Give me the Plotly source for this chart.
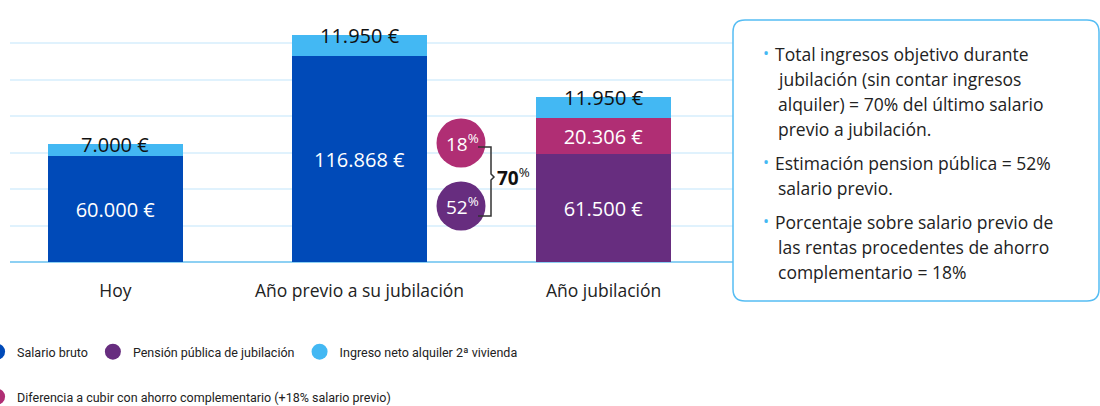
import plotly.graph_objects as go

# Datos
categorias = ["Hoy", "Año previo a su jubilación", "Año jubilación"]
salario_bruto = [60000, 116868, None]
pension_publica = [None, None, 61500]
diferencia_ahorro = [None, None, 20306]
ingreso_alquiler = [7000, 11950, 11950]

pct_labels = ["18", "52"]
pct_total = "70"

notas = [
    ["Total ingresos objetivo durante", "jubilación (sin contar ingresos",
     "alquiler) = 70% del último salario", "previo a jubilación."],
    ["Estimación pension pública = 52%", "salario previo."],
    ["Porcentaje sobre salario previo de", "las rentas procedentes de ahorro",
     "complementario = 18%"],
]

# Colores
AZUL = "#004ab8"
AZUL_CLARO = "#43b8f3"
MAGENTA = "#b02e74"
MORADO = "#672d7f"
TEXTO = "#222222"
FUENTE = "Open Sans"

# Márgenes del área de trazado (px) para convertir a coordenadas 'paper'
W, H = 1100, 406
ML, MR, MT, MB = 10, 267, 7, 144
PW, PH = W - ML - MR, H - MT - MB


def px_x(x):
    return (x - ML) / PW


def px_y(y):
    return (H - MB - y) / PH


def fmt(v):
    return f"{v:,.0f}".replace(",", ".") + " €"


fig = go.Figure()

# Barras apiladas
fig.add_bar(x=categorias, y=salario_bruto, marker_color=AZUL, name="Salario bruto",
            texttemplate="%{y:,.0f} €", showlegend=False)
fig.add_bar(x=categorias, y=pension_publica, marker_color=MORADO, name="Pensión pública de jubilación",
            texttemplate="%{y:,.0f} €", showlegend=False)
fig.add_bar(x=categorias, y=diferencia_ahorro, marker_color=MAGENTA,
            name="Diferencia a cubir con ahorro complementario (+18% salario previo)",
            texttemplate="%{y:,.0f} €", showlegend=False)
fig.add_bar(x=categorias, y=ingreso_alquiler, marker_color=AZUL_CLARO,
            name="Ingreso neto alquiler 2ª vivienda", showlegend=False)

fig.update_traces(selector=dict(type="bar"), width=0.553, marker_line_width=0,
                  textposition="inside", insidetextanchor="middle", constraintext="none",
                  textfont=dict(family=FUENTE, size=20, color="white"), hoverinfo="skip")

# Leyenda con círculos
leyenda = [
    ("Salario bruto", AZUL, "legend", 1),
    ("Pensión pública de jubilación", MORADO, "legend", 2),
    ("Ingreso neto alquiler 2ª vivienda", AZUL_CLARO, "legend", 3),
    ("Diferencia a cubir con ahorro complementario (+18% salario previo)", MAGENTA, "legend2", 4),
]
for nombre, color, leg, rank in leyenda:
    fig.add_scatter(x=[None], y=[None], mode="markers", name=nombre, legend=leg, legendrank=rank,
                    marker=dict(color=color, size=16, symbol="circle"))

# Etiquetas sobre la parte superior de cada barra
for i, cat in enumerate(categorias):
    total = sum(v for v in (salario_bruto[i], pension_publica[i], diferencia_ahorro[i], ingreso_alquiler[i]) if v)
    fig.add_annotation(x=cat, y=total, text=fmt(ingreso_alquiler[i]), showarrow=False,
                       yanchor="middle", font=dict(family=FUENTE, size=20, color="#111111"))

# Círculos de porcentaje
circulos = [(pct_labels[0], MAGENTA, 143), (pct_labels[1], MORADO, 206)]
for txt, color, cy in circulos:
    fig.add_shape(type="circle", xref="paper", yref="paper", xsizemode="pixel", ysizemode="pixel",
                  xanchor=px_x(461), yanchor=px_y(cy), x0=-24.5, x1=24.5, y0=-24.5, y1=24.5,
                  fillcolor=color, line_width=0, layer="above")
    fig.add_annotation(xref="paper", yref="paper", x=px_x(462), y=px_y(cy), showarrow=False,
                       xanchor="center", yanchor="middle",
                       text=f"{txt}<sup>%</sup>", font=dict(family=FUENTE, size=19, color="white"))

# Llave
llave = "M {},{} L {},{} L {},{} L {},{} L {},{} L {},{} L {},{}".format(
    px_x(478), px_y(147), px_x(491), px_y(147), px_x(491), px_y(174), px_x(494), px_y(177),
    px_x(491), px_y(180), px_x(491), px_y(216), px_x(478), px_y(216))
fig.add_shape(type="path", path=llave, xref="paper", yref="paper",
              line=dict(color="#333333", width=1.5), layer="above")
fig.add_annotation(xref="paper", yref="paper", x=px_x(495), y=px_y(177), xanchor="left",
                   yanchor="middle", showarrow=False, text=f"<b>{pct_total}</b><sup>%</sup>",
                   font=dict(family=FUENTE, size=19, color="#111111"))

# Recuadro de notas
bx0, bx1, by0, by1, r = 733, 1099, 20, 301, 12
rx, ry = r / PW, r / PH
x0, x1, yt, yb = px_x(bx0), px_x(bx1), px_y(by0), px_y(by1)
caja = (f"M {x0 + rx},{yt} L {x1 - rx},{yt} Q {x1},{yt} {x1},{yt - ry} "
        f"L {x1},{yb + ry} Q {x1},{yb} {x1 - rx},{yb} L {x0 + rx},{yb} "
        f"Q {x0},{yb} {x0},{yb + ry} L {x0},{yt - ry} Q {x0},{yt} {x0 + rx},{yt} Z")
fig.add_shape(type="path", path=caja, xref="paper", yref="paper", fillcolor="white",
              line=dict(color="#56bdf3", width=1.5), layer="above")

y_linea = 54
for grupo in notas:
    for j, linea in enumerate(grupo):
        if j == 0:
            fig.add_annotation(xref="paper", yref="paper", x=px_x(761), y=px_y(y_linea - 1),
                               xanchor="left", yanchor="middle", showarrow=False, text="•",
                               font=dict(family=FUENTE, size=16, color=AZUL_CLARO))
        fig.add_annotation(xref="paper", yref="paper", x=px_x(773 if j == 0 else 776),
                           y=px_y(y_linea), xanchor="left", yanchor="middle", showarrow=False,
                           text=linea, font=dict(family=FUENTE, size=17.5, color=TEXTO))
        y_linea += 25
    y_linea += 9

leyenda_fuente = dict(family="Roboto", size=12.5, color=TEXTO)

fig.update_layout(
    width=W, height=H,
    barmode="stack",
    bargap=0,
    separators=",.",
    plot_bgcolor="white", paper_bgcolor="white",
    margin=dict(l=ML, r=MR, t=MT, b=MB, autoexpand=False),
    font=dict(family=FUENTE, color=TEXTO),
    xaxis=dict(range=[-0.432, 2.94], showgrid=False, showline=False, ticks="",
               tickfont=dict(family=FUENTE, size=17.5, color=TEXTO), ticklabelstandoff=16,
               fixedrange=True),
    yaxis=dict(range=[0, 145000], tick0=0, dtick=145000 / 7, showticklabels=False,
               gridcolor="#e0f2fd", gridwidth=1.5, zeroline=True, zerolinecolor="#8dd0f3",
               zerolinewidth=2, fixedrange=True),
    legend=dict(orientation="h", traceorder="normal", x=-0.04, xanchor="left", y=px_y(352),
                yanchor="middle", font=leyenda_fuente, bgcolor="rgba(0,0,0,0)"),
    legend2=dict(orientation="h", traceorder="normal", x=-0.04, xanchor="left", y=px_y(397),
                 yanchor="middle", font=leyenda_fuente, bgcolor="rgba(0,0,0,0)"),
    hovermode=False,
)

fig.write_html("out.html", config={"displayModeBar": False},
               post_script="document.body.style.margin='0';")
